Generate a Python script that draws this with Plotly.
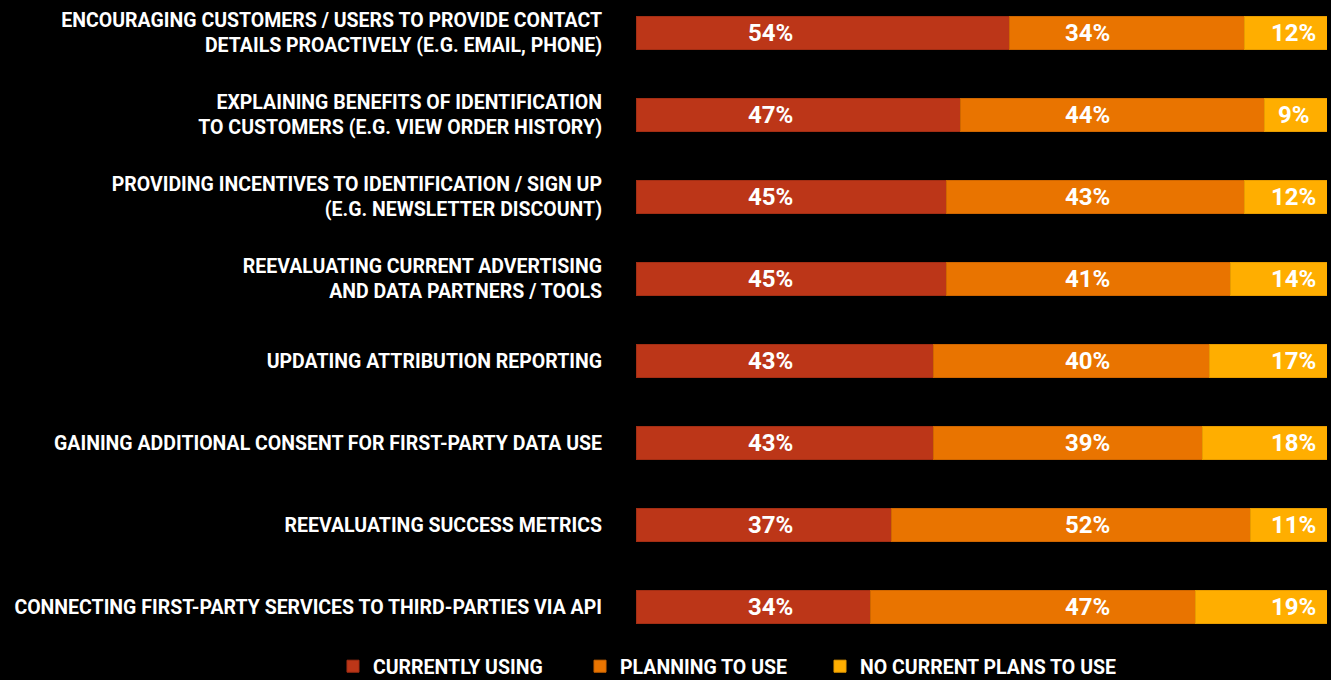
import plotly.graph_objects as go

# Survey answers per initiative (percent of respondents)
categories = [
    "ENCOURAGING CUSTOMERS / USERS TO PROVIDE CONTACT<br>DETAILS PROACTIVELY (E.G. EMAIL, PHONE)",
    "EXPLAINING BENEFITS OF IDENTIFICATION<br>TO CUSTOMERS (E.G. VIEW ORDER HISTORY)",
    "PROVIDING INCENTIVES TO IDENTIFICATION / SIGN UP<br>(E.G. NEWSLETTER DISCOUNT)",
    "REEVALUATING CURRENT ADVERTISING<br>AND DATA PARTNERS / TOOLS",
    "UPDATING ATTRIBUTION REPORTING",
    "GAINING ADDITIONAL CONSENT FOR FIRST-PARTY DATA USE",
    "REEVALUATING SUCCESS METRICS",
    "CONNECTING FIRST-PARTY SERVICES TO THIRD-PARTIES VIA API",
]
currently_using = [54, 47, 45, 45, 43, 43, 37, 34]
planning_to_use = [34, 44, 43, 41, 40, 39, 52, 47]
no_current_plans = [12, 9, 12, 14, 17, 18, 11, 19]

series_names = ["CURRENTLY USING", "PLANNING TO USE", "NO CURRENT PLANS TO USE"]
series_values = [currently_using, planning_to_use, no_current_plans]
series_colors = ["#BC3618", "#E97400", "#FFAE00"]
series_edges = ["#A32E14", "#CF6600", "#E89C00"]
# fixed horizontal column for each series' value label (x-axis units)
label_columns = [19.5, 65.4, 95.2]
# one legend box per series, laid out in a row below the bars
legend_ids = ["legend", "legend2", "legend3"]
legend_x = [-0.4385, -0.0810, 0.2663]

FONT = "Roboto"

fig = go.Figure()
idx = list(range(len(categories)))
for name, vals, col, edge, lg in zip(series_names, series_values, series_colors,
                                     series_edges, legend_ids):
    fig.add_trace(go.Bar(
        y=idx, x=vals, name=name, orientation="h",
        width=0.402, legend=lg,
        marker=dict(color=col, line=dict(color=edge, width=1)),
        hoverinfo="skip",
    ))

for vals, xc in zip(series_values, label_columns):
    for i, v in enumerate(vals):
        fig.add_annotation(
            x=xc, y=i, xref="x", yref="y", text=f"{v}%", showarrow=False,
            xanchor="center", yanchor="middle",
            font=dict(family=FONT, size=24, color="white", weight="bold"),
        )

legend_font = dict(family=FONT, size=19.5, color="white", weight="bold")
legend_layout = {}
for lg, lx in zip(legend_ids, legend_x):
    legend_layout[lg] = dict(
        orientation="h", x=lx, xanchor="left", y=0.0015, yanchor="top",
        font=legend_font, bgcolor="rgba(0,0,0,0)",
    )

fig.update_layout(
    barmode="stack",
    width=1331, height=680,
    margin=dict(l=636, r=4, t=0, b=32, autoexpand=False),
    paper_bgcolor="black", plot_bgcolor="black",
    font=dict(family=FONT, color="white", size=19.5, weight="bold"),
    xaxis=dict(range=[0, 100], visible=False, fixedrange=True),
    yaxis=dict(
        range=[7.5, -0.402], tickmode="array", tickvals=idx, ticktext=categories,
        showgrid=False, zeroline=False, showline=False, ticks="",
        ticklabelstandoff=33,
        tickfont=dict(family=FONT, size=19.5, color="white", weight="bold"),
    ),
    showlegend=True,
    **legend_layout,
)

fig.write_html("out.html")
